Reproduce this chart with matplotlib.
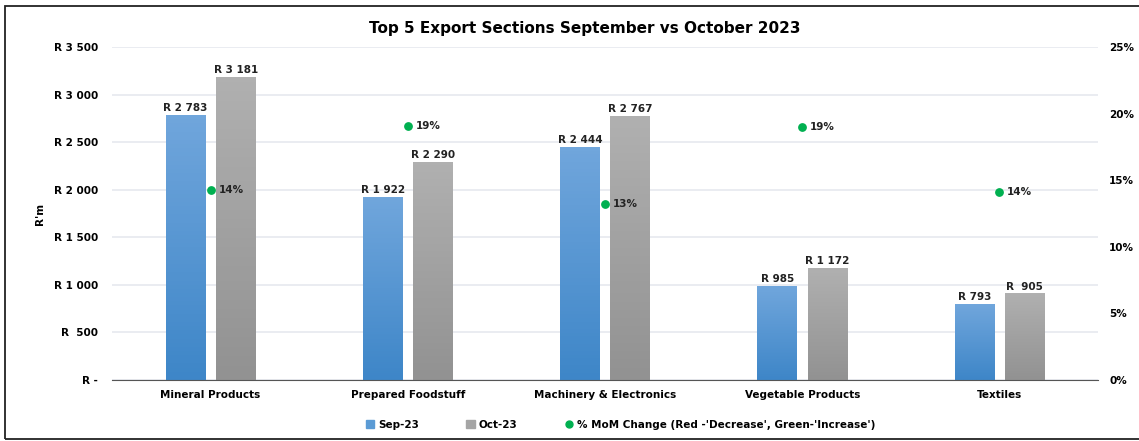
import matplotlib.pyplot as plt
import numpy as np
from matplotlib.patches import Rectangle

# chart data
sections = ["Mineral Products", "Prepared Foodstuff", "Machinery & Electronics",
            "Vegetable Products", "Textiles"]
sep23 = [2783, 1922, 2444, 985, 793]
oct23 = [3181, 2290, 2767, 1172, 905]
mom_pct = [14.3, 19.1, 13.2, 19.0, 14.1]
sep_labels = ["R 2 783", "R 1 922", "R 2 444", "R 985", "R 793"]
oct_labels = ["R 3 181", "R 2 290", "R 2 767", "R 1 172", "R  905"]
y_ticks = [0, 500, 1000, 1500, 2000, 2500, 3000, 3500]
y_ticklabels = ["R -", "R  500", "R 1 000", "R 1 500", "R 2 000", "R 2 500", "R 3 000", "R 3 500"]
pct_ticks = [0, 5, 10, 15, 20, 25]

plt.rcParams["font.family"] = "DejaVu Sans"

fig = plt.figure(figsize=(11.39, 4.41), dpi=100)
ax = fig.add_axes([112 / 1139, 1 - 380 / 441, (1098 - 112) / 1139, (380 - 47) / 441])
ax2 = ax.twinx()

x = np.arange(len(sections))
w = 0.2
off = 0.127


def grad_bar(a, xc, h, top, bottom):
    cols = np.array([top, bottom])
    t = np.linspace(0, 1, 64)[:, None]
    img = cols[0] * (1 - t) + cols[1] * t
    img = np.repeat(img[:, None, :], 2, axis=1)
    a.imshow(img, extent=(xc - w / 2, xc + w / 2, 0, h), aspect="auto",
             origin="upper", zorder=2)


blue_top = np.array([0x70, 0xa6, 0xdc]) / 255
blue_bot = np.array([0x3e, 0x86, 0xc8]) / 255
grey_top = np.array([0xb0, 0xb0, 0xb0]) / 255
grey_bot = np.array([0x92, 0x92, 0x92]) / 255

for i in range(len(sections)):
    grad_bar(ax, x[i] - off, sep23[i], blue_top, blue_bot)
    grad_bar(ax, x[i] + off, oct23[i], grey_top, grey_bot)
    ax.text(x[i] - off, sep23[i] + 25, sep_labels[i], ha="center", va="bottom",
            fontsize=7.5, fontweight="bold", color="#222222")
    ax.text(x[i] + off, oct23[i] + 25, oct_labels[i], ha="center", va="bottom",
            fontsize=7.5, fontweight="bold", color="#222222")

ax.set_xlim(-0.5, len(sections) - 0.5)
ax.set_ylim(0, 3500)
ax.set_yticks(y_ticks)
ax.set_yticklabels(y_ticklabels, fontsize=7.5, fontweight="bold")
ax.set_xticks(x)
ax.set_xticklabels(sections, fontsize=7.5, fontweight="bold")
ax.tick_params(length=0, pad=10)
ax.tick_params(axis="x", pad=7)
ax.grid(axis="y", color="#e6e9ef", linewidth=1.2, zorder=0)
ax.set_axisbelow(True)
for s in ["top", "right", "left"]:
    ax.spines[s].set_visible(False)
ax.spines["bottom"].set_color("#555555")
ax.set_ylabel("R'm", fontsize=7.5, fontweight="bold", labelpad=8)
ax.yaxis.set_label_coords(-0.068, 0.5)

ax2.scatter(x, mom_pct, s=28, color="#00b050", zorder=5)
for i in range(len(sections)):
    ax2.text(x[i] + 0.04, mom_pct[i], f"{mom_pct[i]:.0f}%", ha="left", va="center",
             fontsize=7.5, fontweight="bold", color="#222222")
ax2.set_ylim(0, 25)
ax2.set_yticks(pct_ticks)
ax2.set_yticklabels([f"{p}%" for p in pct_ticks], fontsize=7.5, fontweight="bold")
ax2.tick_params(length=0, pad=8)
for s in ["top", "right", "left", "bottom"]:
    ax2.spines[s].set_visible(False)

fig.text(0.513, 1 - 28 / 441, "Top 5 Export Sections September vs October 2023",
         ha="center", va="center", fontsize=11, fontweight="bold")

h1 = Rectangle((0, 0), 1, 1, color="#5b9bd5")
h2 = Rectangle((0, 0), 1, 1, color="#a5a5a5")
h3 = plt.Line2D([], [], marker="o", linestyle="none", color="#00b050", markersize=5)
fig.legend([h1, h2, h3], ["Sep-23", "Oct-23", "% MoM Change (Red -'Decrease', Green-'Increase')"],
           loc="center", bbox_to_anchor=(0.545, 1 - 425 / 441), ncol=3, frameon=False,
           prop={"size": 7.5, "weight": "bold"}, handlelength=0.8, handleheight=0.8,
           handletextpad=0.4, columnspacing=4.5)

fig.patches.append(Rectangle((5 / 1139, 2 / 441), 1.2, 1 - 8 / 441, transform=fig.transFigure,
                             fill=False, edgecolor="#222222", linewidth=1.3))

fig.savefig("out.png", dpi=100)
